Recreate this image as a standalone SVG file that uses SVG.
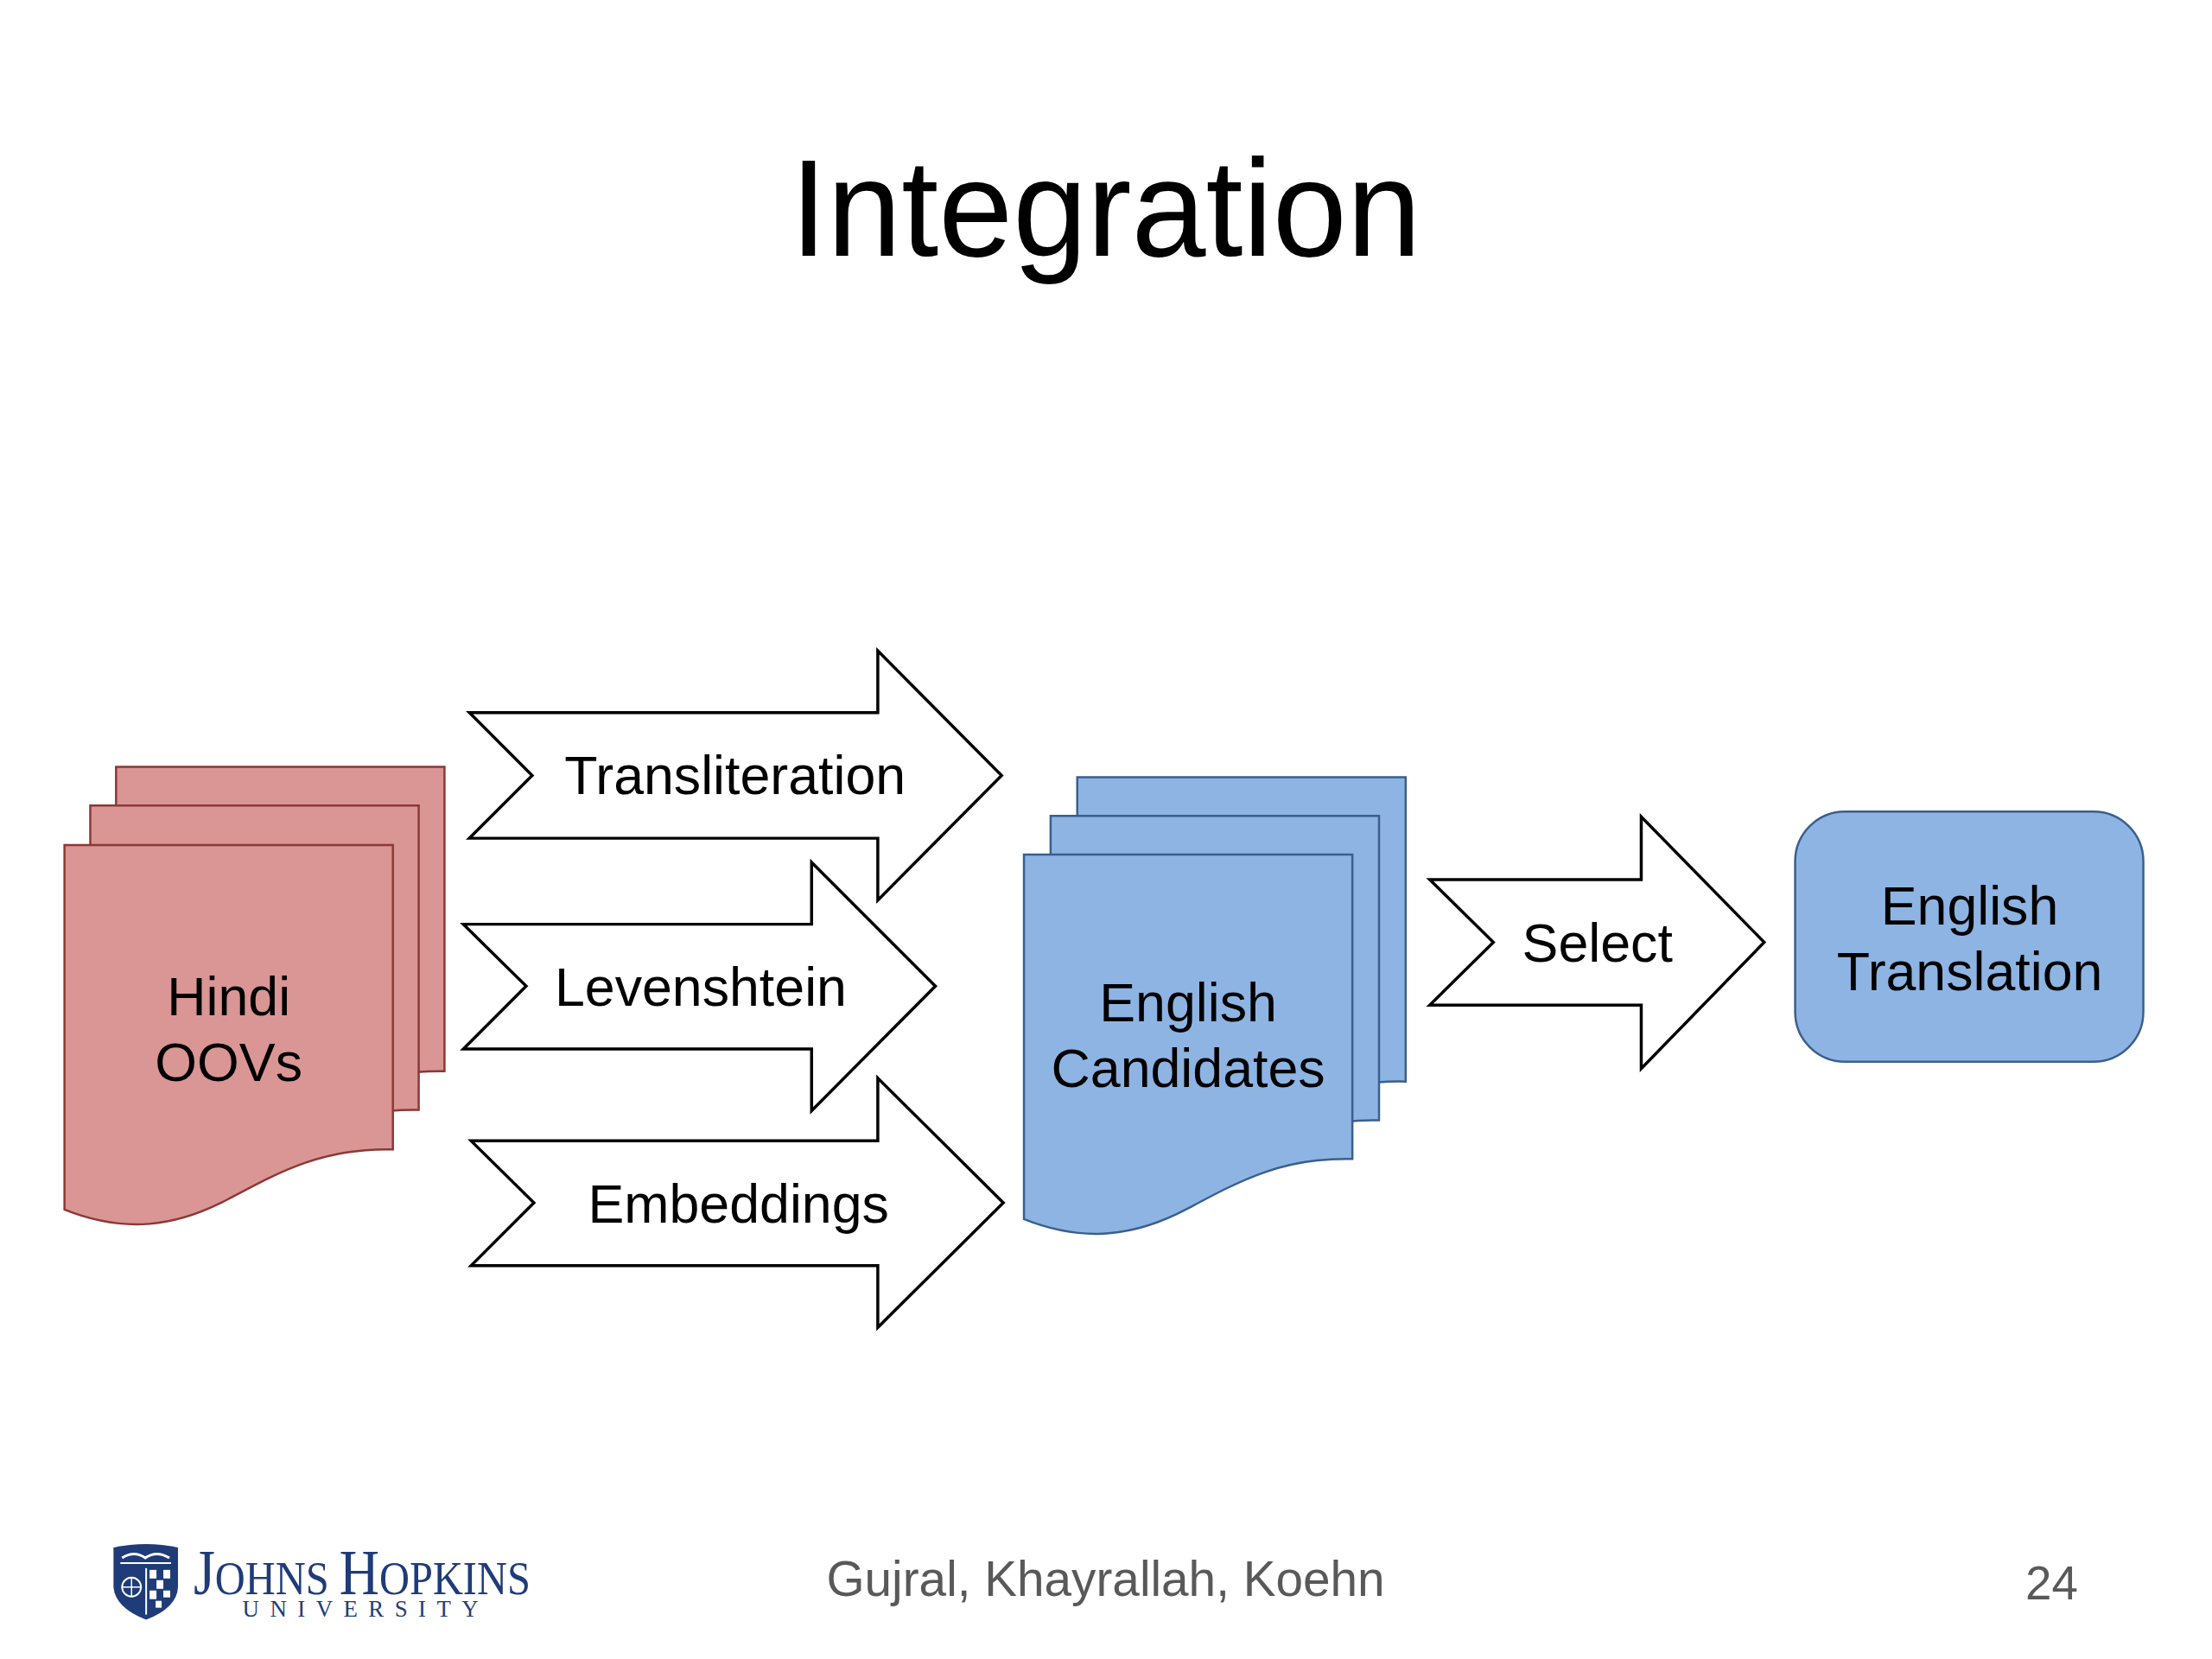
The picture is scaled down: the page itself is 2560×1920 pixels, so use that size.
<svg xmlns="http://www.w3.org/2000/svg" width="2560" height="1920" viewBox="0 0 2560 1920">
<style>
  .lbl { font-family: "Liberation Sans", Arial, Helvetica, sans-serif; font-size: 63px; fill: #000000; text-anchor: middle; }
  .arrow { fill: #FFFFFF; stroke: #000000; stroke-width: 3.5; stroke-linejoin: miter; }
  .pink { fill: #D99694; stroke: #8C3836; stroke-width: 2.5; }
  .blue { fill: #8EB4E3; stroke: #3A5F8C; stroke-width: 2.5; }
  .foot { font-family: "Liberation Sans", Arial, Helvetica, sans-serif; fill: #595959; }
  .jhu { font-family: "Liberation Serif", "Times New Roman", serif; fill: #1F3C78; }
</style>
<defs>
  <path id="doc" d="M0,0 H382 V354 C300,352 250,380 190,412 C130,444 70,452 0,424 Z"/>
</defs>
<rect x="0" y="0" width="2560" height="1920" fill="#FFFFFF"/>

<g id="slide" transform="scale(0.995)">
<text id="title" x="1286" y="297" font-family="Liberation Sans, Arial, Helvetica, sans-serif" font-size="160" fill="#000000" text-anchor="middle" textLength="734" lengthAdjust="spacingAndGlyphs">Integration</text>

<g id="hindi-oovs">
  <use href="#doc" class="pink" transform="translate(135,892)"/>
  <use href="#doc" class="pink" transform="translate(105,937)"/>
  <use href="#doc" class="pink" transform="translate(75,983)"/>
  <text class="lbl" x="266" y="1181">Hindi</text>
  <text class="lbl" x="266" y="1257">OOVs</text>
</g>

<g id="connectors">
  <g id="transliteration">
    <path class="arrow" d="M546,829 H1021 V757 L1165,902 L1021,1047 V975 H546 L619,902 Z"/>
    <text class="lbl" x="855" y="924">Transliteration</text>
  </g>
  <g id="levenshtein">
    <path class="arrow" d="M539,1075 H944 V1003 L1088,1147 L944,1292 V1220 H539 L612,1147 Z"/>
    <text class="lbl" x="815" y="1170">Levenshtein</text>
  </g>
  <g id="embeddings">
    <path class="arrow" d="M548,1327 H1021 V1254 L1167,1399 L1021,1544 V1472 H548 L621,1399 Z"/>
    <text class="lbl" x="859" y="1422">Embeddings</text>
  </g>
  <g id="select">
    <path class="arrow" d="M1663,1023 H1909 V950 L2052,1096 L1909,1243 V1169 H1663 L1737,1096 Z"/>
    <text class="lbl" x="1858" y="1119">Select</text>
  </g>
</g>

<g id="english-candidates">
  <use href="#doc" class="blue" transform="translate(1253,904)"/>
  <use href="#doc" class="blue" transform="translate(1222,949)"/>
  <use href="#doc" class="blue" transform="translate(1191,994)"/>
  <text class="lbl" x="1382" y="1188">English</text>
  <text class="lbl" x="1382" y="1264">Candidates</text>
</g>

<g id="english-translation">
  <rect class="blue" x="2088" y="944" width="405" height="291" rx="58" ry="58"/>
  <text class="lbl" x="2291" y="1075">English</text>
  <text class="lbl" x="2291" y="1152">Translation</text>
</g>

<g id="footer">
  <g id="jhu-logo">
    <path d="M132,1800 Q170,1792 207,1800 L207,1846 Q206,1870 170,1884 Q134,1870 132,1846 Z" fill="#1F3C78"/>
    <path d="M142,1812 Q156,1803 169,1812 Q182,1803 197,1812" fill="none" stroke="#FFFFFF" stroke-width="3"/>
    <line x1="140" y1="1818" x2="199" y2="1818" stroke="#FFFFFF" stroke-width="2"/>
    <line x1="170" y1="1824" x2="170" y2="1878" stroke="#FFFFFF" stroke-width="2"/>
    <circle cx="153" cy="1846" r="11" fill="none" stroke="#FFFFFF" stroke-width="2"/>
    <line x1="142" y1="1846" x2="164" y2="1846" stroke="#FFFFFF" stroke-width="1.5"/>
    <line x1="153" y1="1835" x2="153" y2="1857" stroke="#FFFFFF" stroke-width="1.5"/>
    <rect x="174" y="1826" width="8" height="10" fill="#FFFFFF"/>
    <rect x="190" y="1826" width="8" height="10" fill="#FFFFFF"/>
    <rect x="182" y="1838" width="8" height="10" fill="#FFFFFF"/>
    <rect x="174" y="1850" width="8" height="10" fill="#FFFFFF"/>
    <rect x="190" y="1850" width="8" height="8" fill="#FFFFFF"/>
    <rect x="181" y="1862" width="7" height="8" fill="#FFFFFF"/>
    <text class="jhu" x="225" y="1854" textLength="392" lengthAdjust="spacingAndGlyphs"><tspan font-size="74">J</tspan><tspan font-size="56">OHNS </tspan><tspan font-size="74">H</tspan><tspan font-size="56">OPKINS</tspan></text>
    <text class="jhu" x="282" y="1880" font-size="27" letter-spacing="12.5">UNIVERSITY</text>
  </g>
  <text class="foot" x="1286" y="1856" font-size="57" text-anchor="middle">Gujral, Khayrallah, Koehn</text>
  <text class="foot" x="2417" y="1860" font-size="55" text-anchor="end">24</text>
</g>
</g>
</svg>
